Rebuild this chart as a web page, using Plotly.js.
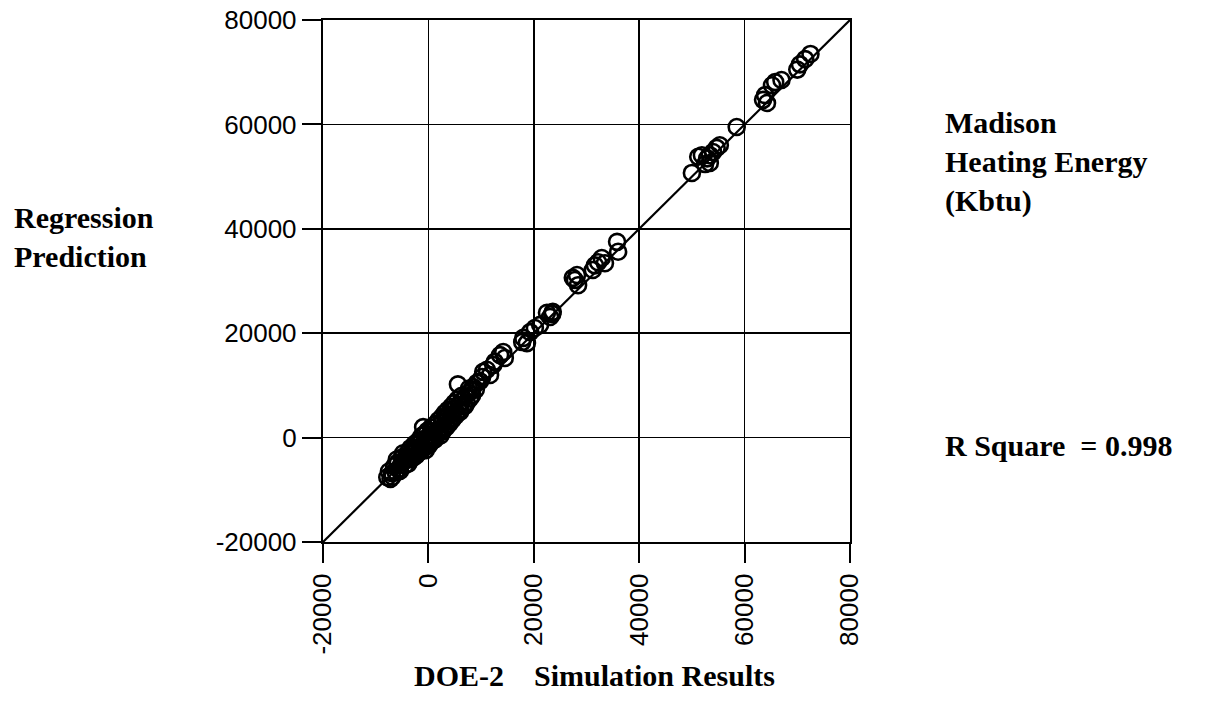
<!DOCTYPE html>
<html>
<head>
<meta charset="utf-8">
<script src="https://cdn.plot.ly/plotly-3.0.1.min.js"></script>
<style>html,body{margin:0;padding:0;background:#fff;}#chart{width:1209px;height:710px;}</style>
</head>
<body>
<div id="chart"></div>
<script>
// DOE-2 simulation results (x) vs regression prediction (y), Kbtu
const simX = [
  -7800,-7200,-6900,-6500,-6200,-5800,-5600,-5200,-5000,-4700,-4400,-4100,-3900,-3600,-3300,-3000,
  -2800,-2500,-2200,-2000,-1700,-1500,-1200,-1000,-900,-600,-400,-100,200,400,700,900,1200,1500,
  1700,2000,2300,2600,2900,3200,3500,3800,4100,4400,4700,5000,5300,5600,5800,6100,6400,6700,7000,
  7300,7600,7900,8200,8500,9200,9800,10200,10400,11100,11700,12300,12600,13600,14200,14500,
  -7500,-6800,-6000,-5400,-4800,-4300,-3800,-3400,-3100,-2600,-2300,-1900,-1600,-1300,-1100,-700,
  -500,-200,100,500,800,1100,1400,1900,2200,2500,2800,3100,3400,3700,4000,4300,4600,4900,5200,
  5500,6000,6300,6900,7700,8300,9000,
  17800,18000,18700,19300,20200,21200,22500,23100,23500,23600,
  27400,27800,28200,28400,31200,31600,32200,32900,33500,35800,36000,
  50000,51200,51900,52500,52900,53400,53400,54000,54700,55300,58500,
  63500,64250,63900,65200,65800,67000,70000,70500,71500,72500
];
const regY = [
  -7600,-7900,-6800,-5500,-6600,-4800,-6000,-5200,-3800,-4500,-5300,-3600,-2800,-4200,-3100,-2200,
  -3800,-2600,-1400,-3000,-1800,-800,-2300,2000,-1100,-200,-1700,-600,300,-900,1200,100,-400,2600,
  800,1600,400,2900,1800,3600,2500,4200,3100,5100,3800,5600,4600,10200,6100,5300,7000,6200,7900,
  6700,8600,7500,9100,9700,10500,10800,11600,12600,13000,12000,13900,14500,15800,16400,15250,
  -6500,-7500,-4200,-6400,-3000,-4000,-5000,-2000,-3900,-1200,-3400,-600,-2700,300,-1900,700,
  -2400,1300,-1500,1900,-600,2400,-100,3300,1000,3900,1300,4700,2000,5300,2700,5900,3500,6600,4200,
  7300,4900,8000,6000,9400,8100,9200,
  18300,19100,18100,20200,21000,21600,23900,23100,23700,24100,
  30600,30200,31150,29200,32100,33000,33600,34400,33400,37500,35600,
  50700,53800,54100,52400,53500,52600,54100,54700,55500,56000,59500,
  64700,64100,65600,67500,68100,68500,70500,71500,72500,73500
];
// 1:1 reference line
const lineX = [-20000, 80000];
const lineY = [-20000, 80000];
const tickVals = [-20000, 0, 20000, 40000, 60000, 80000];

const traces = [
  {x: lineX, y: lineY, mode: 'lines', type: 'scatter', line: {color: '#000', width: 2.2}, hoverinfo: 'skip', showlegend: false},
  {x: simX, y: regY, mode: 'markers', type: 'scatter', showlegend: false,
   marker: {symbol: 'circle-open', size: 16, color: '#000', line: {color: '#000', width: 2.6}}}
];

const serif = {family: 'Liberation Serif, Times New Roman, serif', size: 30, color: '#000'};
const axisCommon = {
  range: [-20000, 80000], tickvals: tickVals, ticktext: tickVals.map(String),
  showgrid: true, gridcolor: '#000', gridwidth: 1.5, zeroline: false,
  showline: true, linecolor: '#000', linewidth: 2.2, mirror: true,
  ticks: 'outside', ticklen: 19, tickwidth: 2, tickcolor: '#000',
  tickfont: {family: 'Liberation Sans, Arial, sans-serif', size: 26, color: '#000'}
};

const layout = {
  width: 1209, height: 710,
  margin: {l: 323, r: 359, t: 20, b: 168},
  paper_bgcolor: '#fff', plot_bgcolor: '#fff',
  xaxis: Object.assign({}, axisCommon, {tickangle: -90}),
  yaxis: Object.assign({}, axisCommon),
  annotations: [
    {text: '<b>Regression<br>Prediction</b>', xref: 'paper', yref: 'paper', x: -0.590, y: 0.584,
     xanchor: 'left', yanchor: 'middle', align: 'left', showarrow: false, font: serif},
    {text: '<b>Madison<br>Heating Energy<br>(Kbtu)</b>', xref: 'paper', yref: 'paper', x: 1.176, y: 0.728,
     xanchor: 'left', yanchor: 'middle', align: 'left', showarrow: false, font: serif},
    {text: '<b>R Square  = 0.998</b>', xref: 'paper', yref: 'paper', x: 1.176, y: 0.184,
     xanchor: 'left', yanchor: 'middle', align: 'left', showarrow: false, font: serif},
    {text: '<b>DOE-2&nbsp;&nbsp;&nbsp;&nbsp;Simulation Results</b>', xref: 'paper', yref: 'paper', x: 0.516, y: -0.255,
     xanchor: 'center', yanchor: 'middle', align: 'center', showarrow: false, font: serif}
  ]
};

Plotly.newPlot('chart', traces, layout, {displayModeBar: false, staticPlot: true});
</script>
</body>
</html>
